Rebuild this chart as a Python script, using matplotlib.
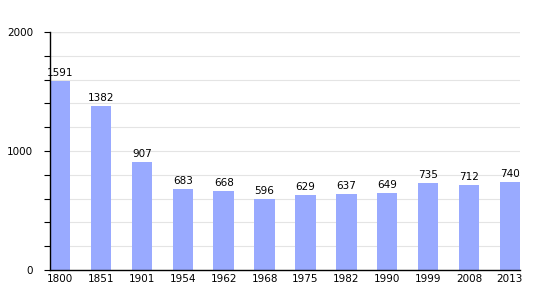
import matplotlib
matplotlib.use("Agg")
import matplotlib.pyplot as plt
from matplotlib.ticker import MultipleLocator

# population by census year
years = ["1800", "1851", "1901", "1954", "1962", "1968",
         "1975", "1982", "1990", "1999", "2008", "2013"]
population = [1591, 1382, 907, 683, 668, 596, 629, 637, 649, 735, 712, 740]

bar_color = "#99aaff"

fig = plt.figure(figsize=(5.5, 3.0), dpi=100)
ax = fig.add_axes([50 / 550, 30 / 300, 470 / 550, 238 / 300])

x = list(range(len(years)))
bars = ax.bar(x, population, width=0.5, color=bar_color, zorder=2)

for xi, v in zip(x, population):
    ax.text(xi, v + 25, str(v), ha="center", va="bottom",
            fontsize=7.5, color="black", zorder=3)

ax.set_xlim(-0.25, len(years) - 0.75)
ax.set_ylim(0, 2000)
ax.set_xticks(x)
ax.set_xticklabels(years, fontsize=7.5)
ax.tick_params(axis="x", length=0, pad=3)

ax.set_yticks([0, 1000, 2000])
ax.set_yticklabels(["0", "1000", "2000"], fontsize=7.5)
ax.yaxis.set_minor_locator(MultipleLocator(200))
ax.tick_params(axis="y", which="both", direction="out", length=4, width=0.8, pad=8)

ax.grid(True, axis="y", which="both", color="#e4e4e4", linewidth=0.8, zorder=0)
ax.axhline(2000, color="#aaaaaa", linewidth=0.8, zorder=1)

ax.spines["top"].set_visible(False)
ax.spines["right"].set_visible(False)
ax.spines["left"].set_linewidth(1.0)
ax.spines["bottom"].set_linewidth(1.0)

plt.savefig("out.png", dpi=100)
